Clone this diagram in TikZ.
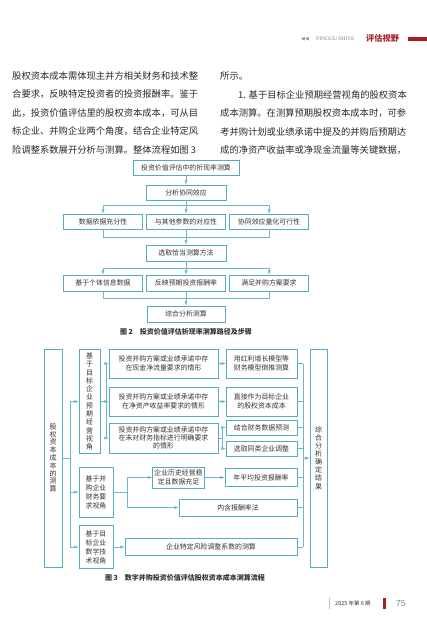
\documentclass[tikz,border=0pt]{standalone}
\usepackage{fontspec}
\setmainfont{Liberation Serif}
\newfontfamily\cjk{Noto Sans CJK SC}
\newfontfamily\symfont{DejaVu Sans}
\newfontfamily\pgfont{Liberation Sans}
\usepackage{tikz}

\definecolor{boxline}{RGB}{86,170,196}
\definecolor{linecol}{RGB}{110,182,204}
\definecolor{figtext}{RGB}{50,50,50}
\definecolor{bodytext}{RGB}{40,40,40}
\definecolor{hdred}{RGB}{165,30,35}
\definecolor{hdblue}{RGB}{110,150,190}

\newcommand\figfont{\fontsize{6.9}{8.3}\selectfont\cjk}

\begin{document}
\begin{tikzpicture}[
    x=1pt, y=-1pt,
    every node/.style={inner sep=0pt},
    box/.style={draw=boxline, line width=0.6pt, text=figtext, font=\figfont, align=center},
    sz/.style 2 args={minimum width=#1pt, minimum height=#2pt},
    line/.style={draw=linecol, line width=0.5pt},
    body/.style={anchor=west, text=bodytext, font=\fontsize{9.3}{11}\selectfont\cjk},
    figcap/.style={text=figtext, font=\fontsize{7}{8}\selectfont\cjk\bfseries}
]
\useasboundingbox (0,0) rectangle (427,621);

% header
\node[anchor=west, text=hdblue, font=\symfont\fontsize{5}{5}\selectfont] (hdarr) at (301,39) {◀◀};
\node[anchor=west, text=gray, font=\fontsize{5.5}{6}\selectfont] (hdpin) at (316,39) {PINGGU SHIYE};
\node[anchor=west, text=hdred, font=\fontsize{8.2}{9}\selectfont\cjk\bfseries] (hdcol) at (366,38.5) {评估视野};
\fill[hdred] (408,37) rectangle (427,41);

% text
\node[body] (l1) at (12,76) {股权资本成本需体现主并方相关财务和技术整};
\node[body] (l2) at (12,94.5) {合要求，反映特定投资者的投资报酬率。鉴于};
\node[body] (l3) at (12,113) {此，投资价值评估里的股权资本成本，可从目};
\node[body] (l4) at (12,131.5) {标企业、并购企业两个角度，结合企业特定风};
\node[body] (l5) at (12,150) {险调整系数展开分析与测算。整体流程如图 3};
\node[body] (r1) at (220,76) {所示。};
\node[body] (r2) at (238,94.5) {1. 基于目标企业预期经营视角的股权资本};
\node[body] (r3) at (220,113) {成本测算。在测算预期股权资本成本时，可参};
\node[body] (r4) at (220,131.5) {考并购计划或业绩承诺中提及的并购后预期达};
\node[body] (r5) at (220,150) {成的净资产收益率或净现金流量等关键数据，};

% figure 2
\node[box, sz={106}{15}] (f2top) at (186,167.5) {投资价值评估中的折现率测算};
\node[box, sz={80}{15}] (f2syn) at (186,192.5) {分析协同效应};
\node[box, sz={79}{15}] (f2a) at (103,221.5) {数据依据充分性};
\node[box, sz={79}{15}] (f2b) at (186,221.5) {与其他参数的对应性};
\node[box, sz={79}{15}] (f2c) at (269,221.5) {协同效应量化可行性};
\node[box, sz={80}{16}] (f2sel) at (186,253) {选取恰当测算方法};
\node[box, sz={79}{16}] (f2d) at (103,283) {基于个体信息数据};
\node[box, sz={79}{16}] (f2e) at (186,283) {反映预期投资报酬率};
\node[box, sz={79}{16}] (f2f) at (269,283) {满足并购方案要求};
\node[box, sz={78}{16}] (f2end) at (186,314) {综合分析测算};
\node[figcap] (f2cap) at (186,332) {图 2\quad 投资价值评估折现率测算路径及步骤};

\coordinate (s1) at (186,205);
\coordinate (s2) at (186,237);
\coordinate (s3) at (186,268);
\coordinate (s4) at (186,298);

\draw[line,-latex] (f2top) -- (f2syn);
\draw[line] (f2syn) -- (s1);
\draw[line,-latex] (s1) -| (f2a);
\draw[line,-latex] (s1) -- (f2b);
\draw[line,-latex] (s1) -| (f2c);
\draw[line] (f2a) |- (s2);
\draw[line] (f2b) -- (s2);
\draw[line] (f2c) |- (s2);
\draw[line,-latex] (s2) -- (f2sel);
\draw[line] (f2sel) -- (s3);
\draw[line,-latex] (s3) -| (f2d);
\draw[line,-latex] (s3) -- (f2e);
\draw[line,-latex] (s3) -| (f2f);
\draw[line] (f2d) |- (s4);
\draw[line] (f2e) -- (s4);
\draw[line] (f2f) |- (s4);
\draw[line,-latex] (s4) -- (f2end);

% figure 3
\node[box, sz={18}{218}, font=\fontsize{7}{7.8}\selectfont\cjk] (f3all) at (53,458) {股\\权\\资\\本\\成\\本\\的\\测\\算};
\node[box, sz={21}{104}] (f3tgt) at (89.5,401.5) {基\\于\\目\\标\\企\\业\\预\\期\\经\\营\\视\\角};
\node[box, sz={34}{50}, font=\fontsize{6.9}{9}\selectfont\cjk] (f3fin) at (96,492) {基于并\\购企业\\财务要\\求视角};
\node[box, sz={34}{43}, font=\fontsize{6.9}{9}\selectfont\cjk] (f3dig) at (96,547) {基于目\\标企业\\数字技\\术视角};

\node[box, sz={109}{29}] (a1) at (163.5,363.5) {投资并购方案或业绩承诺中存\\在现金净流量要求的情形};
\node[box, sz={109}{29}] (a2) at (163.5,401.5) {投资并购方案或业绩承诺中存\\在净资产收益率要求的情形};
\node[box, sz={109}{30}] (a3) at (163.5,438) {投资并购方案或业绩承诺中存\\在未对财务指标进行明确要求\\的情形};
\node[box, sz={71}{29}] (m1) at (261.5,363.5) {用红利增长模型等\\财务模型倒推测算};
\node[box, sz={71}{29}] (m2) at (261.5,401.5) {直接作为目标企业\\的股权资本成本};
\node[box, sz={71}{15}] (m3) at (261.5,427.5) {结合财务数据预测};
\node[box, sz={71}{15}] (m4) at (261.5,448.5) {选取同类企业调整};
\node[box, sz={52}{21}] (b1) at (178.5,477.5) {企业历史经营稳\\定且数据充足};
\node[box, sz={72}{18}] (b2) at (261,477.5) {年平均投资报酬率};
\node[box, sz={118}{17}] (b3) at (238,507.5) {内含报酬率法};
\node[box, sz={172}{17}] (c1) at (211,547) {企业特定风险调整系数的测算};
\node[box, sz={17}{218}, font=\fontsize{7}{8.1}\selectfont\cjk] (f3res) at (318.5,458) {综\\合\\分\\析\\确\\定\\结\\果};
\node[figcap] (f3cap) at (185,578) {图 3\quad 数字并购投资价值评估股权资本成本测算流程};

\coordinate (t0) at (70,458);
\coordinate (ta) at (106,401.5);
\coordinate (tb) at (222,438);
\coordinate (tc) at (127,492);
\coordinate (k0) at (303,458);
\coordinate (k1) at (303,363.5);
\coordinate (k2) at (303,547);

\draw[line] (f3all) -- (t0);
\draw[line,-latex] (t0) |- (f3tgt);
\draw[line,-latex] (t0) |- (f3fin);
\draw[line,-latex] (t0) |- (f3dig);

\draw[line] (f3tgt) -- (ta);
\draw[line,-latex] (ta) |- (a1);
\draw[line,-latex] (ta) -- (a2);
\draw[line,-latex] (ta) |- (a3);
\draw[line,-latex] (a1) -- (m1);
\draw[line,-latex] (a2) -- (m2);
\draw[line] (a3) -- (tb);
\draw[line,-latex] (tb) |- (m3);
\draw[line,-latex] (tb) |- (m4);

\draw[line] (f3fin) -- (tc);
\draw[line,-latex] (tc) |- (b1);
\draw[line,-latex] (tc) |- (b3);
\draw[line,-latex] (b1) -- (b2);
\draw[line,-latex] (f3dig) -- (c1);

\draw[line] (k1) -- (k2);
\draw[line] (m1) -- (k1);
\draw[line] (m2) -- (m2 -| k1);
\draw[line] (m3) -- (m3 -| k1);
\draw[line] (m4) -- (m4 -| k1);
\draw[line] (b2) -- (b2 -| k1);
\draw[line] (b3) -- (b3 -| k1);
\draw[line] (c1) -- (k2);
\draw[line,-latex] (k0) -- (f3res);

% footer
\draw[gray!50, line width=0.4pt] (329,598) -- (329,609);
\node[anchor=west, text=figtext, font=\fontsize{5.5}{6}\selectfont\cjk] (ftiss) at (335,603.5) {2025 年第 6 期};
\fill[hdred] (383,597.5) rectangle (386,609);
\node[anchor=west, text=gray, font=\fontsize{8.5}{9}\selectfont\pgfont] (ftpg) at (396,603.5) {75};
\end{tikzpicture}
\end{document}
